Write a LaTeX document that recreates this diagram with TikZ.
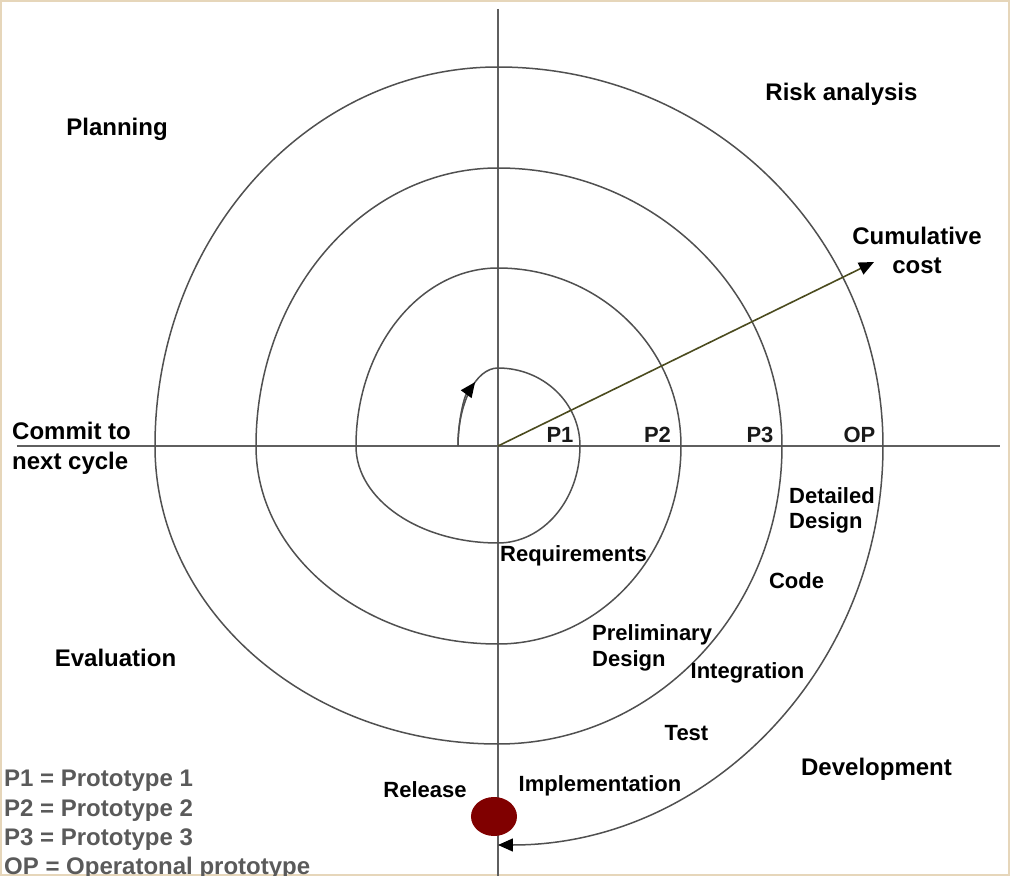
\documentclass[tikz,border=0pt]{standalone}
\usepackage{fontspec}
\setmainfont{Liberation Sans}
\usetikzlibrary{arrows.meta}
\definecolor{axisgray}{RGB}{95,95,95}
\definecolor{spiralgray}{RGB}{80,80,80}
\definecolor{costolive}{RGB}{75,75,30}
\definecolor{legendgray}{RGB}{90,90,90}
\definecolor{framebeige}{RGB}{230,214,186}
\definecolor{releasered}{RGB}{128,0,0}

\begin{document}
\begin{tikzpicture}[x=1pt, y=1pt,
  quadlabel/.style={font=\fontsize{24}{29}\selectfont\bfseries, inner sep=0pt},
  phaselabel/.style={font=\fontsize{22}{25}\selectfont\bfseries, inner sep=0pt},
  protolabel/.style={font=\fontsize{22}{25}\selectfont\bfseries, text=black!90, anchor=base, inner sep=0pt},
  legendline/.style={font=\fontsize{24}{29}\selectfont\bfseries, text=legendgray, anchor=base west, inner sep=0pt},
  spiralline/.style={spiralgray, line width=1.5pt},
  tipend/.style={-{Triangle[length=15pt,width=13pt,color=black]}}]
  \useasboundingbox (-498,-430) rectangle (512,446);
  \draw[framebeige, line width=2pt] (-497,-429) rectangle (511,445);
  \draw[axisgray, line width=1.6pt] (0,437) -- (0,-430);
  \draw[axisgray, line width=1.6pt] (-481,0) -- (502,0);
  \coordinate (O) at (0,0);
  \draw[spiralline, tipend] (-40,0)
    arc[start angle=180, end angle=90, x radius=40pt, y radius=78pt]
    arc[start angle=90, end angle=0, x radius=82pt, y radius=78pt]
    arc[start angle=0, end angle=-90, x radius=82pt, y radius=97pt]
    arc[start angle=-90, end angle=-180, x radius=142pt, y radius=97pt]
    arc[start angle=180, end angle=90, x radius=142pt, y radius=178pt]
    arc[start angle=90, end angle=0, x radius=183pt, y radius=178pt]
    arc[start angle=0, end angle=-90, x radius=183pt, y radius=198pt]
    arc[start angle=-90, end angle=-180, x radius=242pt, y radius=198pt]
    arc[start angle=180, end angle=90, x radius=242pt, y radius=278pt]
    arc[start angle=90, end angle=0, x radius=284pt, y radius=278pt]
    arc[start angle=0, end angle=-90, x radius=284pt, y radius=298pt]
    arc[start angle=-90, end angle=-180, x radius=343pt, y radius=298pt]
    arc[start angle=180, end angle=90, x radius=343pt, y radius=379pt]
    arc[start angle=90, end angle=0, x radius=385pt, y radius=379pt]
    arc[start angle=0, end angle=-90, x radius=385pt, y radius=399pt];
  \draw[spiralline, tipend] (-40,0) arc[start angle=180, end angle=125, x radius=40pt, y radius=78pt];
  \coordinate (costend) at (376,184);
  \draw[costolive, line width=1.6pt, tipend] (O) -- (costend);
  \fill[releasered] (-4,-370.5) ellipse [x radius=23pt, y radius=19.5pt];

  \node[quadlabel] (planning) at (-381,316.5) {Planning};
  \node[quadlabel] (risk) at (343.5,352) {Risk analysis};
  \node[quadlabel, align=center] (cost) at (419,196) {Cumulative\\cost};
  \node[quadlabel, align=left, anchor=west, font=\fontsize{24}{30}\selectfont\bfseries] (commit) at (-486,-2) {Commit to\\next cycle};
  \node[quadlabel] (evaluation) at (-382.5,-212) {Evaluation};
  \node[quadlabel] (development) at (378.5,-323) {Development};

  \node[protolabel] (pone) at (62,4) {P1};
  \node[protolabel] (ptwo) at (159.5,4) {P2};
  \node[protolabel] (pthree) at (262,4) {P3};
  \node[protolabel] (op) at (361.5,4) {OP};

  \node[phaselabel, align=left, anchor=west] (detailed) at (291,-64) {Detailed\\Design};
  \node[phaselabel] (code) at (298.5,-134.5) {Code};
  \node[phaselabel] (req) at (75.5,-110) {Requirements};
  \node[phaselabel, align=left, anchor=west, font=\fontsize{22}{26}\selectfont\bfseries] (prelim) at (94,-201.5) {Preliminary\\Design};
  \node[phaselabel] (integ) at (249.5,-227) {Integration};
  \node[phaselabel] (test) at (188.5,-287.5) {Test};
  \node[phaselabel] (impl) at (102,-340) {Implementation};
  \node[phaselabel] (release) at (-73,-344) {Release};

  \node[legendline] (legone) at (-494,-340) {P1 = Prototype 1};
  \node[legendline] (legtwo) at (-494,-370) {P2 = Prototype 2};
  \node[legendline] (legthree) at (-494,-399) {P3 = Prototype 3};
  \node[legendline] (legop) at (-494,-428) {OP = Operatonal prototype};
\end{tikzpicture}
\end{document}
